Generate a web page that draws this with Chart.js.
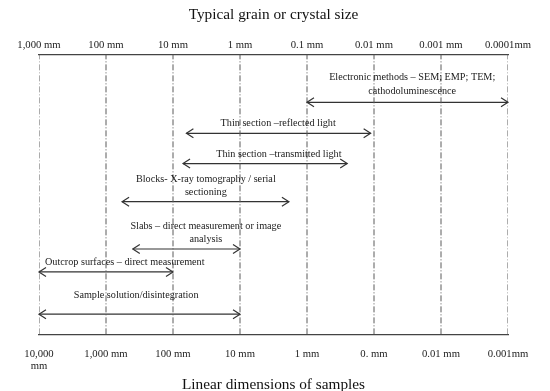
<!DOCTYPE html>
<html>
<head>
<meta charset="utf-8">
<script src="https://cdn.jsdelivr.net/npm/chart.js@4/dist/chart.umd.min.js"></script>
<style>
  html, body { margin: 0; padding: 0; background: #ffffff; }
  canvas { display: block; }
</style>
</head>
<body>
<canvas id="c" width="550" height="391"></canvas>
<script>
// ---- Data ----
const grainSizeLabels = ["1,000 mm", "100 mm", "10 mm", "1 mm", "0.1 mm", "0.01 mm", "0.001 mm", "0.0001mm"];
const sampleSizeLabels = [["10,000", "mm"], "1,000 mm", "100 mm", "10 mm", "1 mm", "0. mm", "0.01 mm", "0.001mm"];

const methodNames = [
  ["Electronic methods – SEM; EMP; TEM;", "cathodoluminescence"],
  ["Thin section –reflected light"],
  ["Thin section –transmitted light"],
  ["Blocks- X-ray tomography / serial", "sectioning"],
  ["Slabs – direct measurement or image", "analysis"],
  ["Outcrop surfaces – direct measurement"],
  ["Sample solution/disintegration"]
];
// range start / end on the decade scale (0 = first tick, 7 = last tick)
const rangeStart = [4.0, 2.2, 2.15, 1.24, 1.4, 0.0, 0.0];
const rangeEnd   = [7.0, 4.95, 4.6, 3.73, 3.0, 2.0, 3.0];
// row level of each arrow (vertical units 0..10)
const rowLevel   = [8.29, 7.18, 6.10, 4.74, 3.05, 2.23, 0.72];
// label anchor (center x, baseline row of last line)
const labelCenter = [5.57, 3.57, 3.58, 2.49, 2.49, 1.28, 1.45];
const labelLevel  = [8.69, 7.54, 6.43, 5.06, 3.38, 2.59, 1.40];

// ---- Build datasets ----
const datasets = [];
grainSizeLabels.forEach((_, i) => {
  datasets.push({
    data: [{x: i, y: 0}, {x: i, y: 10}],
    borderColor: '#5a5a5a',
    borderWidth: 1,
    borderDash: [6, 2, 1, 2],
    pointRadius: 0,
    showLine: true
  });
});
methodNames.forEach((_, i) => {
  datasets.push({
    data: [{x: rangeStart[i], y: rowLevel[i]}, {x: rangeEnd[i], y: rowLevel[i]}],
    borderColor: '#333333',
    borderWidth: 1.2,
    pointRadius: 0,
    showLine: true
  });
});

const SERIF = "'Liberation Serif', 'Times New Roman', 'DejaVu Serif', serif";

const arrowPlugin = {
  id: 'arrowsAndLabels',
  afterDatasetsDraw(chart) {
    const ctx = chart.ctx;
    const xs = chart.scales.x, ys = chart.scales.y;
    ctx.save();
    methodNames.forEach((lines, i) => {
      const x1 = xs.getPixelForValue(rangeStart[i]);
      const x2 = xs.getPixelForValue(rangeEnd[i]);
      const y = ys.getPixelForValue(rowLevel[i]);
      const L = 7, H = 4.5;
      ctx.strokeStyle = '#333333';
      ctx.lineWidth = 1.2;
      ctx.setLineDash([]);
      ctx.beginPath();
      ctx.moveTo(x1 + L, y - H); ctx.lineTo(x1, y); ctx.lineTo(x1 + L, y + H);
      ctx.moveTo(x2 - L, y - H); ctx.lineTo(x2, y); ctx.lineTo(x2 - L, y + H);
      ctx.stroke();

      ctx.fillStyle = '#1a1a1a';
      ctx.font = "10.2px " + SERIF;
      ctx.textAlign = 'center';
      ctx.textBaseline = 'middle';
      const cx = xs.getPixelForValue(labelCenter[i]);
      const ly = ys.getPixelForValue(labelLevel[i]);
      const n = lines.length;
      lines.forEach((t, k) => {
        ctx.fillText(t, cx, ly - (n - 1 - k) * 13.5);
      });
    });
    ctx.restore();
  }
};

new Chart(document.getElementById('c'), {
  type: 'scatter',
  data: { datasets },
  plugins: [arrowPlugin],
  options: {
    responsive: false,
    animation: false,
    layout: { padding: { left: 39, right: 42, top: 0, bottom: 0 } },
    plugins: {
      legend: { display: false },
      tooltip: { enabled: false },
      title: {
        display: true,
        text: 'Typical grain or crystal size',
        color: '#111111',
        font: { family: SERIF, size: 15.3, weight: 'normal', lineHeight: 1.2 },
        padding: { top: 6, bottom: 11.3 }
      }
    },
    scales: {
      x: {
        type: 'linear',
        position: 'bottom',
        min: 0, max: 7,
        grid: { display: false, drawTicks: false },
        border: { display: true, color: '#444444', width: 1.3 },
        ticks: {
          stepSize: 1,
          autoSkip: false,
          maxRotation: 0,
          padding: 14,
          color: '#222222',
          font: { family: SERIF, size: 10.7, lineHeight: 1.1 },
          callback: (v) => sampleSizeLabels[v]
        },
        title: {
          display: true,
          text: 'Linear dimensions of samples',
          color: '#111111',
          font: { family: SERIF, size: 15.3, weight: 'normal', lineHeight: 1 },
          padding: { top: -8.7, bottom: -1.5 }
        }
      },
      x2: {
        type: 'linear',
        position: 'top',
        min: 0, max: 7,
        grid: { display: false, drawTicks: false },
        border: { display: true, color: '#444444', width: 1.3 },
        ticks: {
          stepSize: 1,
          autoSkip: false,
          maxRotation: 0,
          padding: 3.5,
          color: '#222222',
          font: { family: SERIF, size: 10.7, lineHeight: 1.1 },
          callback: (v) => grainSizeLabels[v]
        }
      },
      y: {
        type: 'linear',
        display: false,
        min: 0, max: 10
      }
    }
  }
});
</script>
</body>
</html>
